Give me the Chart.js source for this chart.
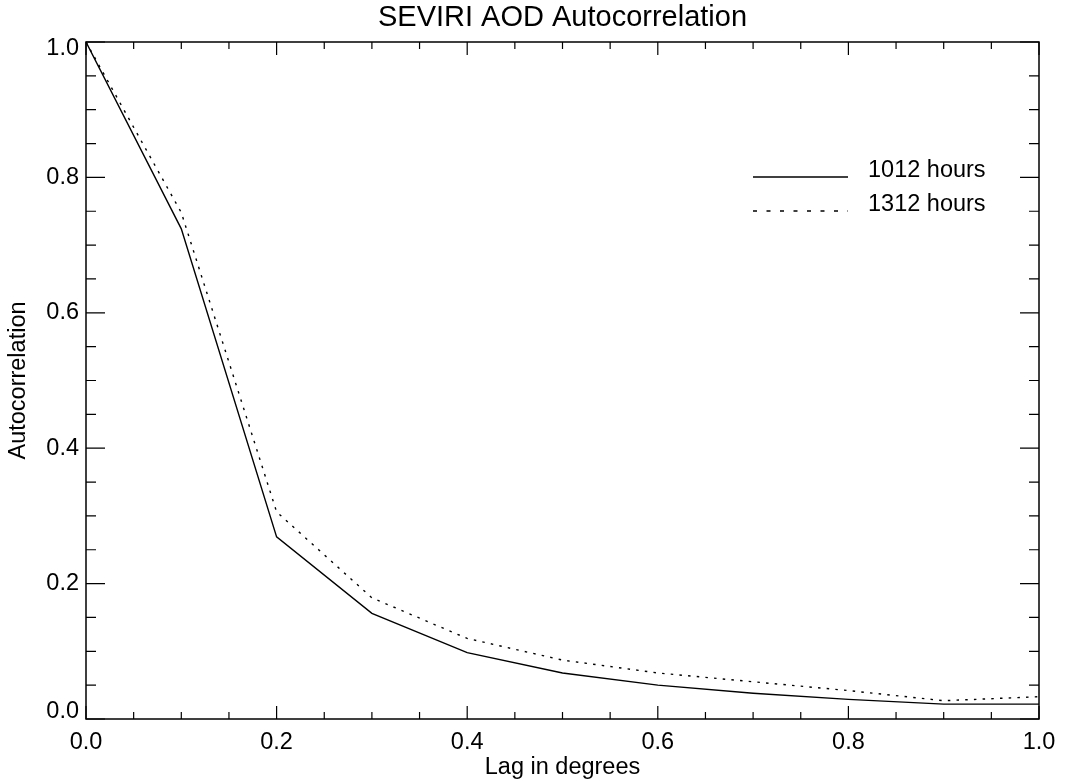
<!DOCTYPE html>
<html>
<head>
<meta charset="utf-8">
<script src="https://cdn.jsdelivr.net/npm/chart.js@4/dist/chart.umd.min.js"></script>
<style>
    body { margin: 0; background: #fff; }
    canvas { display: block; }
</style>
</head>
<body>
<canvas id="acChart" width="1066" height="782"></canvas>
<script>
// lag values (degrees) and autocorrelation for both periods
const lags = [0.0, 0.1, 0.2, 0.3, 0.4, 0.5, 0.6, 0.7, 0.8, 0.9, 1.0];
const ac1012 = [1.0, 0.724, 0.269, 0.156, 0.098, 0.068, 0.050, 0.038, 0.029, 0.022, 0.022];
const ac1312 = [1.0, 0.748, 0.306, 0.179, 0.119, 0.087, 0.068, 0.055, 0.042, 0.027, 0.033];
const seriesNames = ['1012 hours', '1312 hours'];

const xMajorTicks = [0.0, 0.2, 0.4, 0.6, 0.8, 1.0];
const yMajorTicks = [0.0, 0.2, 0.4, 0.6, 0.8, 1.0];
const minorPerMajor = 4;

const FONT = '"Liberation Sans", Arial, Helvetica, sans-serif';

function minorTicks(major) {
    const out = [];
    for (let i = 0; i < major.length - 1; i++) {
        const step = (major[i + 1] - major[i]) / minorPerMajor;
        for (let k = 1; k < minorPerMajor; k++) out.push(major[i] + k * step);
    }
    return out;
}

// IDL style frame: box with inward ticks on all four sides, y labels clamped inside the box
const frameTicks = {
    id: 'frameTicks',
    afterDraw(chart) {
        const { ctx, chartArea: a, scales: { x, y } } = chart;
        ctx.save();
        ctx.strokeStyle = '#000';
        ctx.lineWidth = 1.5;
        ctx.strokeRect(a.left, a.top, a.right - a.left, a.bottom - a.top);

        ctx.lineWidth = 1.2;
        const xTick = (v, len) => {
            const px = x.getPixelForValue(v);
            ctx.beginPath();
            ctx.moveTo(px, a.bottom); ctx.lineTo(px, a.bottom - len);
            ctx.moveTo(px, a.top); ctx.lineTo(px, a.top + len);
            ctx.stroke();
        };
        const yTick = (v, len) => {
            const py = y.getPixelForValue(v);
            ctx.beginPath();
            ctx.moveTo(a.left, py); ctx.lineTo(a.left + len, py);
            ctx.moveTo(a.right, py); ctx.lineTo(a.right - len, py);
            ctx.stroke();
        };
        xMajorTicks.forEach(v => xTick(v, 13));
        minorTicks(xMajorTicks).forEach(v => xTick(v, 7));
        yMajorTicks.forEach(v => yTick(v, 19));
        minorTicks(yMajorTicks).forEach(v => yTick(v, 10));

        ctx.fillStyle = '#000';
        ctx.font = '23.5px ' + FONT;
        ctx.textAlign = 'right';
        ctx.textBaseline = 'middle';
        yMajorTicks.forEach(v => {
            let py = y.getPixelForValue(v);
            py = Math.min(Math.max(py, a.top + 7), a.bottom - 7);
            ctx.fillText(v.toFixed(1), a.left - 7, py);
        });
        ctx.restore();
    }
};

// legend drawn inside the plot area, text baseline on the line sample
const insideLegend = {
    id: 'insideLegend',
    afterDraw(chart) {
        const { ctx, chartArea: a } = chart;
        const rows = [135, 169];
        ctx.save();
        ctx.strokeStyle = '#000';
        ctx.fillStyle = '#000';
        ctx.font = '23.5px ' + FONT;
        ctx.textBaseline = 'alphabetic';
        ctx.textAlign = 'left';
        chart.data.datasets.forEach((ds, i) => {
            const ly = a.top + rows[i];
            ctx.lineWidth = 1.4;
            ctx.setLineDash(i === 0 ? [] : [4, 9.5]);
            ctx.beginPath();
            ctx.moveTo(a.left + 667, ly);
            ctx.lineTo(a.left + 762, ly);
            ctx.stroke();
            ctx.setLineDash([]);
            ctx.fillText(ds.label, a.left + 782, ly);
        });
        ctx.restore();
    }
};

const toPoints = vals => lags.map((l, i) => ({ x: l, y: vals[i] }));

new Chart(document.getElementById('acChart'), {
    type: 'line',
    data: {
        datasets: [{
            label: seriesNames[0],
            data: toPoints(ac1012),
            borderColor: '#000',
            borderWidth: 1.4,
            pointRadius: 0,
            tension: 0,
            fill: false
        }, {
            label: seriesNames[1],
            data: toPoints(ac1312),
            borderColor: '#000',
            borderWidth: 1.4,
            borderDash: [2.5, 6.2],
            pointRadius: 0,
            tension: 0,
            fill: false
        }]
    },
    options: {
        responsive: false,
        devicePixelRatio: 1,
        animation: false,
        layout: { padding: { left: 0, right: 27, top: 0, bottom: 0 } },
        plugins: {
            legend: { display: false },
            tooltip: { enabled: false },
            title: {
                display: true,
                fullSize: false,
                text: 'SEVIRI AOD Autocorrelation',
                color: '#000',
                font: { family: FONT, size: 29, weight: 'normal' },
                padding: { top: 1, bottom: 6.2 }
            }
        },
        scales: {
            x: {
                type: 'linear',
                min: 0,
                max: 1,
                afterBuildTicks: s => { s.ticks = xMajorTicks.map(v => ({ value: v })); },
                afterFit: s => { s.height = 63; },
                grid: { display: false, drawTicks: false },
                border: { display: false },
                ticks: {
                    color: '#000',
                    padding: 9,
                    maxRotation: 0,
                    font: { family: FONT, size: 23.5 },
                    callback: v => Number(v).toFixed(1)
                },
                title: {
                    display: true,
                    text: 'Lag in degrees',
                    color: '#000',
                    font: { family: FONT, size: 23.5 },
                    padding: { top: 2, bottom: 0 }
                }
            },
            y: {
                type: 'linear',
                min: 0,
                max: 1,
                afterBuildTicks: s => { s.ticks = yMajorTicks.map(v => ({ value: v })); },
                afterFit: s => { s.width = 86; },
                grid: { display: false, drawTicks: false },
                border: { display: false },
                ticks: { display: false },
                title: {
                    display: true,
                    text: 'Autocorrelation',
                    color: '#000',
                    font: { family: FONT, size: 23.5 },
                    padding: { top: 4, bottom: 0 }
                }
            }
        }
    },
    plugins: [frameTicks, insideLegend]
});
</script>
</body>
</html>
